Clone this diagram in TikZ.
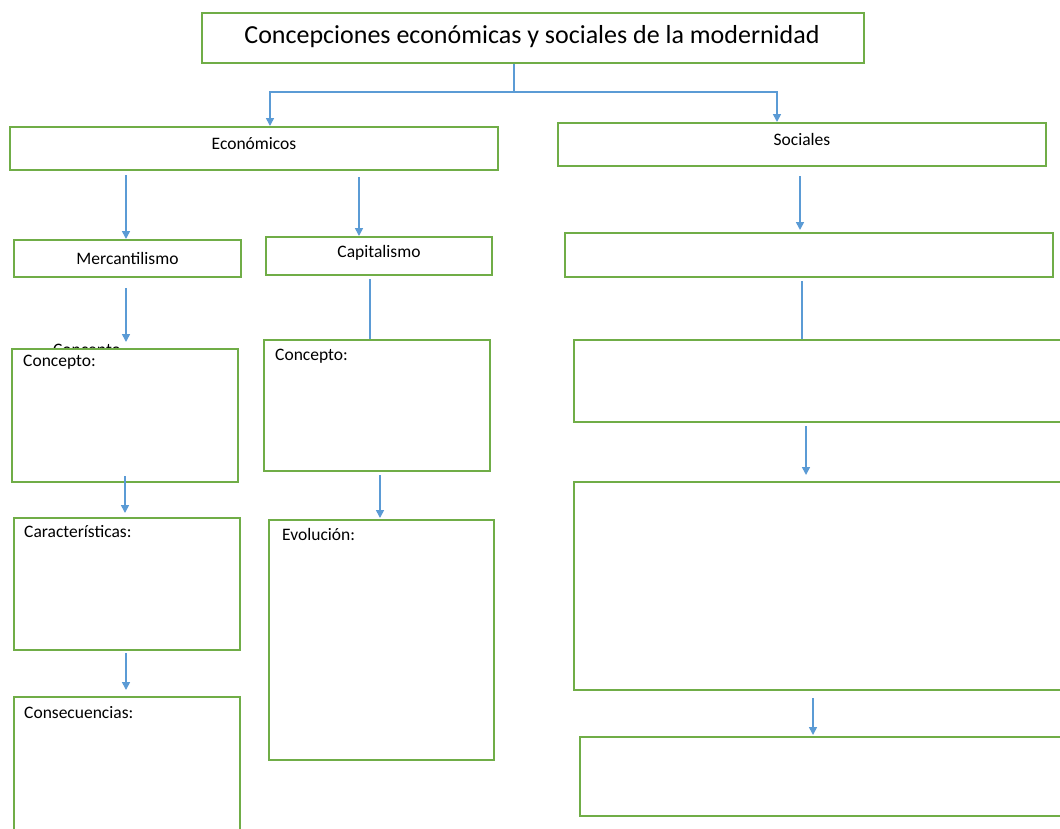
\documentclass[tikz,border=0pt]{standalone}
\usepackage{fontspec}
\setmainfont{Carlito}
\usetikzlibrary{arrows.meta, positioning}

\definecolor{boxgreen}{HTML}{70AD47}
\definecolor{linkblue}{HTML}{5B9BD5}

\tikzset{
    box/.style={draw=boxgreen, line width=2pt, fill=white, inner sep=0pt},
    tag/.style={inner sep=0pt, font=\fontsize{17.5}{20}\selectfont},
    link/.style={draw=linkblue, line width=1.6pt, -{Triangle[length=8pt, width=8pt]}},
    wire/.style={draw=linkblue, line width=1.6pt}
}

\begin{document}
\begin{tikzpicture}[x=1pt, y=-1pt]
    \clip (0,0) rectangle (1060,828);
    \fill[white] (0,0) rectangle (1060,828);

    % title and the two branches
    \node[box, minimum width=662pt, minimum height=50pt] (title) at (533,38) {};
    \node[font=\fontsize{26}{30}\selectfont, inner sep=0pt] (titletext) at (532,37) {Concepciones económicas y sociales de la modernidad};
    \node[box, minimum width=488pt, minimum height=43pt] (econ) at (254,148.5) {};
    \node[tag] (econtext) at (254,144) {Económicos};
    \node[box, minimum width=488pt, minimum height=43pt] (soc) at (802,144.5) {};
    \node[tag] (soctext) at (802,139) {Sociales};

    \coordinate (fork) at (514,92);
    \draw[wire] ([xshift=-19pt]title.south) -- (fork);
    \draw[link] (fork) -| ([xshift=16pt]econ.north);
    \draw[link] (fork) -| ([xshift=-25pt]soc.north);

    % economic side
    \node[box, minimum width=227pt, minimum height=37pt] (merc) at (127.5,258.5) {};
    \node[tag] (merctext) at (127.5,258) {Mercantilismo};
    \node[box, minimum width=226pt, minimum height=38pt] (cap) at (379,256) {};
    \node[tag] (captext) at (379,253) {Capitalismo};

    \node[tag, anchor=north] (ghost) at (87,344) {Concepto};
    \node[box, minimum width=226pt, minimum height=133pt] (mconc) at (125,415.5) {};
    \node[tag, below right=7pt and 12pt of mconc.north west] {Concepto:};
    \node[box, minimum width=226pt, minimum height=132pt] (mcar) at (127,584) {};
    \node[tag, below right=8pt and 11pt of mcar.north west] {Características:};
    \node[box, minimum width=226pt, minimum height=143pt] (mcons) at (127,768.5) {};
    \node[tag, below right=10pt and 11pt of mcons.north west] {Consecuencias:};

    \node[box, minimum width=226pt, minimum height=131pt] (cconc) at (377,405.5) {};
    \node[tag, below right=10pt and 12pt of cconc.north west] {Concepto:};
    \node[box, minimum width=225pt, minimum height=240pt] (cevol) at (381.5,640) {};
    \node[tag, below right=9pt and 14pt of cevol.north west] {Evolución:};

    \draw[link, shorten <=4pt] ([xshift=-1.5pt]merc.north |- econ.south) -- ([xshift=-1.5pt]merc.north);
    \draw[link, shorten <=6pt] ([xshift=-20pt]cap.north |- econ.south) -- ([xshift=-20pt]cap.north);
    \draw[link, shorten <=10pt, shorten >=6pt] ([xshift=-1.5pt]merc.south) -- ([xshift=-1.5pt]merc.south |- mconc.north);
    \draw[link, shorten <=-7pt, shorten >=4pt] (mconc.south) -- (mcar.north -| mconc.south);
    \draw[link, shorten <=2pt, shorten >=6pt] ([xshift=-1pt]mcar.south) -- ([xshift=-1pt]mcar.south |- mcons.north);
    \draw[wire, shorten <=3pt] ([xshift=-9pt]cap.south) -- ([xshift=-9pt]cap.south |- cconc.north);
    \draw[link, shorten <=3pt, shorten >=1pt] ([xshift=3pt]cconc.south) -- ([xshift=3pt]cconc.south |- cevol.north);

    % social side
    \node[box, minimum width=488pt, minimum height=44pt] (s1) at (809,255) {};
    \node[box, minimum width=506pt, minimum height=82pt] (s2) at (827,381) {};
    \node[box, minimum width=506pt, minimum height=208pt] (s3) at (827,586) {};
    \node[box, minimum width=500pt, minimum height=79pt] (s4) at (830,776.5) {};

    \draw[link, shorten <=9pt, shorten >=2pt] ([xshift=-2pt]soc.south) -- ([xshift=-2pt]soc.south |- s1.north);
    \draw[wire, shorten <=3pt] ([xshift=-7pt]s1.south) -- ([xshift=-7pt]s1.south |- s2.north);
    \draw[link, shorten <=3pt, shorten >=6pt] ([xshift=-21pt]s2.south) -- ([xshift=-21pt]s2.south |- s3.north);
    \draw[link, shorten <=7pt, shorten >=1pt] ([xshift=-14pt]s3.south) -- ([xshift=-14pt]s3.south |- s4.north);
\end{tikzpicture}
\end{document}
